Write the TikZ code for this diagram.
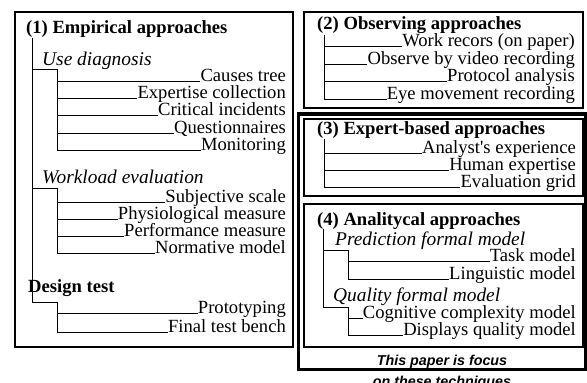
\documentclass[tikz,border=0pt]{standalone}
\usepackage{fontspec}
\setmainfont{Liberation Serif}
\newfontfamily\notefont{Liberation Sans}
\begin{document}
\begin{tikzpicture}[x=1pt,y=-1pt,
  frame/.style={draw, line width=2pt},
  bigframe/.style={draw, line width=3.2pt},
  tree/.style={draw, line width=1pt},
  item/.style={anchor=base east, inner sep=0pt, font=\fontsize{18.6}{20}\selectfont},
  hdr/.style={anchor=base west, inner sep=0pt, font=\fontsize{18.6}{20}\selectfont\bfseries},
  grp/.style={anchor=base west, inner sep=0pt, font=\fontsize{19.4}{20}\selectfont\itshape},
  note/.style={anchor=base, inner sep=0pt, font=\notefont\fontsize{14.3}{16}\selectfont\bfseries\itshape}]
\useasboundingbox (0,0) rectangle (587,383);
\clip (0,0) rectangle (587,383);
\fill[white] (0,0) rectangle (587,383);

% frames
\draw[frame] (15,12) rectangle (293.3,347);
\draw[frame] (303.5,12) rectangle (583,107.5);
\draw[bigframe] (298.5,114) rectangle (585.5,369.5);
\draw[frame] (303.5,119) rectangle (583,196);
\draw[frame] (303.5,203.5) rectangle (583,347);

% ---------- box 1
\node[hdr] (h1) at (26,33) {(1) Empirical approaches};
\node[grp] (g1) at (42,65) {Use diagnosis};
\node[grp] (g2) at (42,183) {Workload evaluation};
\node[hdr] (g3) at (28,292) {Design test};
\coordinate (t1a) at (32,38);
\coordinate (t1b) at (32,302);
\coordinate (t1c) at (57,302);
\coordinate (t1d) at (57,332);
\coordinate (u1a) at (32,69);
\coordinate (u1b) at (57,69);
\coordinate (u1c) at (57,150);
\coordinate (w1a) at (32,188);
\coordinate (w1b) at (57,188);
\coordinate (w1c) at (57,253);

\foreach \n/\y/\t in {a1/81/Causes tree, a2/98/Expertise collection, a3/115/Critical incidents, a4/133/Questionnaires, a5/150/Monitoring,
  b1/202/Subjective scale, b2/219/Physiological measure, b3/236/Performance measure, b4/253/Normative model,
  c1/313/Prototyping, c2/332/Final test bench}
  {\node[item] (\n) at (286,\y) {\t};
   \coordinate (\n s) at (57,\y);
   \draw[tree] (\n s) -- (\n.base west);}
\draw[tree] (t1a) -- (t1b) -- (t1c) -- (t1d);
\draw[tree] (u1a) -- (u1b) -- (u1c);
\draw[tree] (w1a) -- (w1b) -- (w1c);

% ---------- box 2
\node[hdr] (h2) at (317,29.5) {(2) Observing approaches};
\coordinate (t2a) at (324,35);
\coordinate (t2b) at (324,99);
\foreach \n/\y/\t in {d1/46/Work recors (on paper), d2/64/Observe by video recording, d3/81.5/Protocol analysis, d4/99/Eye movement recording}
  {\node[item] (\n) at (575,\y) {\t};
   \coordinate (\n s) at (324,\y);
   \draw[tree] (\n s) -- (\n.base west);}
\draw[tree] (t2a) -- (t2b);

% ---------- box 3
\node[hdr] (h3) at (317,134) {(3) Expert-based approaches};
\coordinate (t3a) at (324,139);
\coordinate (t3b) at (324,187);
\foreach \n/\y/\t in {e1/153/Analyst\textquotesingle s experience, e2/170/Human expertise, e3/187/Evaluation grid}
  {\node[item] (\n) at (576,\y) {\t};
   \coordinate (\n s) at (324,\y);
   \draw[tree] (\n s) -- (\n.base west);}
\draw[tree] (t3a) -- (t3b);

% ---------- box 4
\node[hdr] (h4) at (317,225) {(4) Analitycal approaches};
\node[grp] (g4) at (335,245) {Prediction formal model};
\node[grp] (g5) at (333,301) {Quality formal model};
\coordinate (t4a) at (323,229);
\coordinate (t4b) at (323,307);
\coordinate (p4a) at (323,250);
\coordinate (p4b) at (348,250);
\coordinate (p4c) at (348,279);
\coordinate (q4b) at (348,307);
\coordinate (q4c) at (348,335);
\foreach \n/\y/\t in {f1/261/Task model, f2/279/Linguistic model, f3/318/Cognitive complexity model, f4/335/Displays quality model}
  {\node[item] (\n) at (576,\y) {\t};
   \coordinate (\n s) at (348,\y);
   \draw[tree] (\n s) -- (\n.base west);}
\draw[tree] (t4a) -- (t4b) -- (q4b) -- (q4c);
\draw[tree] (p4a) -- (p4b) -- (p4c);

% ---------- note
\node[note] (n1) at (442,365) {This paper is focus};
\node[note] (n2) at (442,386) {on these techniques};
\end{tikzpicture}
\end{document}
